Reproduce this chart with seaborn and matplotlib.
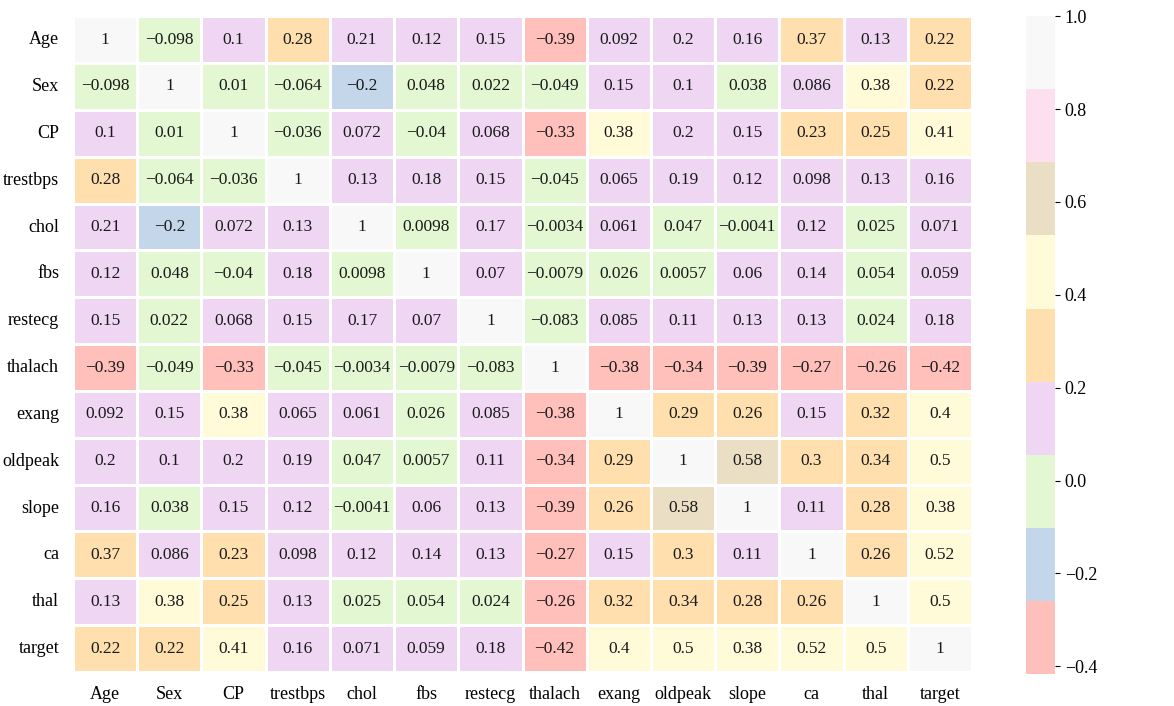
import numpy as np
import pandas as pd
import matplotlib
matplotlib.use("Agg")
import matplotlib.pyplot as plt
from matplotlib.colors import ListedColormap
import seaborn as sns

features = ["Age", "Sex", "CP", "trestbps", "chol", "fbs", "restecg",
            "thalach", "exang", "oldpeak", "slope", "ca", "thal", "target"]

age      = [1, -0.098, 0.1, 0.28, 0.21, 0.12, 0.15, -0.39, 0.092, 0.2, 0.16, 0.37, 0.13, 0.22]
sex      = [-0.098, 1, 0.01, -0.064, -0.2, 0.048, 0.022, -0.049, 0.15, 0.1, 0.038, 0.086, 0.38, 0.22]
cp       = [0.1, 0.01, 1, -0.036, 0.072, -0.04, 0.068, -0.33, 0.38, 0.2, 0.15, 0.23, 0.25, 0.41]
trestbps = [0.28, -0.064, -0.036, 1, 0.13, 0.18, 0.15, -0.045, 0.065, 0.19, 0.12, 0.098, 0.13, 0.16]
chol     = [0.21, -0.2, 0.072, 0.13, 1, 0.0098, 0.17, -0.0034, 0.061, 0.047, -0.0041, 0.12, 0.025, 0.071]
fbs      = [0.12, 0.048, -0.04, 0.18, 0.0098, 1, 0.07, -0.0079, 0.026, 0.0057, 0.06, 0.14, 0.054, 0.059]
restecg  = [0.15, 0.022, 0.068, 0.15, 0.17, 0.07, 1, -0.083, 0.085, 0.11, 0.13, 0.13, 0.024, 0.18]
thalach  = [-0.39, -0.049, -0.33, -0.045, -0.0034, -0.0079, -0.083, 1, -0.38, -0.34, -0.39, -0.27, -0.26, -0.42]
exang    = [0.092, 0.15, 0.38, 0.065, 0.061, 0.026, 0.085, -0.38, 1, 0.29, 0.26, 0.15, 0.32, 0.4]
oldpeak  = [0.2, 0.1, 0.2, 0.19, 0.047, 0.0057, 0.11, -0.34, 0.29, 1, 0.58, 0.3, 0.34, 0.5]
slope    = [0.16, 0.038, 0.15, 0.12, -0.0041, 0.06, 0.13, -0.39, 0.26, 0.58, 1, 0.11, 0.28, 0.38]
ca       = [0.37, 0.086, 0.23, 0.098, 0.12, 0.14, 0.13, -0.27, 0.15, 0.3, 0.11, 1, 0.26, 0.52]
thal     = [0.13, 0.38, 0.25, 0.13, 0.025, 0.054, 0.024, -0.26, 0.32, 0.34, 0.28, 0.26, 1, 0.5]
target   = [0.22, 0.22, 0.41, 0.16, 0.071, 0.059, 0.18, -0.42, 0.4, 0.5, 0.38, 0.52, 0.5, 1]

corr = pd.DataFrame([age, sex, cp, trestbps, chol, fbs, restecg, thalach,
                     exang, oldpeak, slope, ca, thal, target],
                    index=features, columns=features)

# lighter take on Pastel1, as in the reference
pastel = ListedColormap(["#ffc0bc", "#c3d6ea", "#e2f7d2", "#efd7f4", "#ffdfae",
                         "#fffad8", "#eadfc4", "#fde0ef", "#f8f8f8"])

labels = corr.map(lambda v: f"{v:.2g}".replace("-", "\u2212"))

plt.rcParams['font.family'] = ['Liberation Serif', 'DejaVu Serif']

fig = plt.figure(figsize=(11.74, 7.06), dpi=100)
ax = fig.add_axes([0.0622, 0.0482, 0.7658, 0.9288])
cax = fig.add_axes([0.874, 0.0453, 0.0247, 0.9317])

sns.heatmap(corr, cmap=pastel, annot=labels, fmt='', vmin=-0.4167, vmax=1,
            linewidths=0.8, linecolor='white', ax=ax, cbar_ax=cax,
            annot_kws={'fontsize': 12.5, 'color': '#1a1a1a'})

ax.tick_params(length=0, labelsize=13, pad=10)
ax.set_yticklabels(ax.get_yticklabels(), rotation=0)
ax.set_xticklabels(ax.get_xticklabels(), rotation=0)
cax.tick_params(labelsize=13)

plt.savefig("out.png", dpi=100)
plt.close()
